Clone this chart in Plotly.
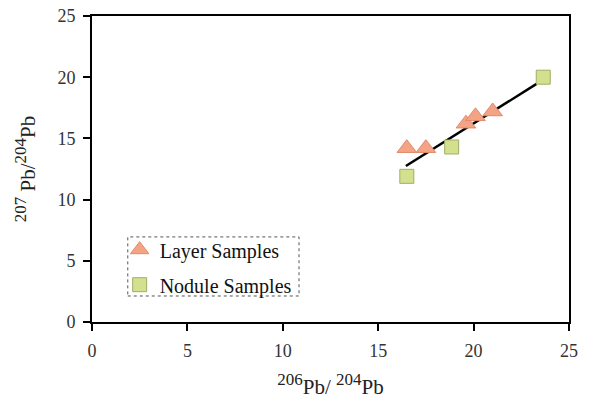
import plotly.graph_objects as go

layer_x = [16.5, 17.5, 19.6, 20.1, 21.0]
layer_y = [14.2, 14.2, 16.2, 16.8, 17.2]
nodule_x = [16.5, 18.85, 23.65]
nodule_y = [11.9, 14.3, 20.0]
fit_x = [16.45, 23.3]
fit_y = [12.75, 19.45]
tick_vals = [0, 5, 10, 15, 20, 25]

font = "Liberation Serif, Times New Roman, serif"

fig = go.Figure()
fig.add_trace(go.Scatter(x=fit_x, y=fit_y, mode="lines", line=dict(color="black", width=2.5),
                         showlegend=False, hoverinfo="skip"))
fig.add_trace(go.Scatter(x=layer_x, y=layer_y, mode="markers", name="Layer Samples",
                         legendgroup="a",
                         marker=dict(symbol="triangle-up", size=17, color="#F4A384",
                                     line=dict(color="#E08A6A", width=1))))
fig.add_trace(go.Scatter(x=nodule_x, y=nodule_y, mode="markers", name="Nodule Samples",
                         legendgroup="b",
                         marker=dict(symbol="square", size=14, color="#D5E08E",
                                     line=dict(color="#9FAE66", width=1))))

axis_common = dict(range=[0, 25], tickvals=tick_vals, showgrid=False, zeroline=False,
                   showline=True, linecolor="black", linewidth=2, mirror=True,
                   ticks="outside", ticklen=7, tickwidth=2, tickcolor="black", automargin=False,
                   ticklabelstandoff=4,
                   tickfont=dict(family=font, size=18, color="#333"))

def sup(t):
    return "<sup><span style='font-size:17px'>" + t + "</span></sup>"

fig.update_layout(
    width=594, height=405,
    margin=dict(l=92, r=25, t=16, b=83),
    plot_bgcolor="white", paper_bgcolor="white",
    font=dict(family=font, color="#222"),
    xaxis=dict(**axis_common,
               title=dict(text=sup("206") + "Pb/ " + sup("204") + "Pb", font=dict(family=font, size=21), standoff=20)),
    yaxis=dict(**axis_common,
               title=dict(text=sup("207") + " Pb/" + sup("204") + "Pb", font=dict(family=font, size=21), standoff=16)),
    legend=dict(x=0.058, y=0.30, xanchor="left", yanchor="top", bgcolor="rgba(0,0,0,0)",
                font=dict(family=font, size=20, color="#111"), tracegroupgap=6,
                itemwidth=30),
    shapes=[dict(type="rect", xref="paper", yref="paper", x0=0.075, x1=0.434, y0=0.085, y1=0.278,
                 line=dict(color="#555", width=1, dash="dot"))],
)

fig.write_html("out.html", config={"displayModeBar": False},
               post_script="document.body.style.margin='0';")
